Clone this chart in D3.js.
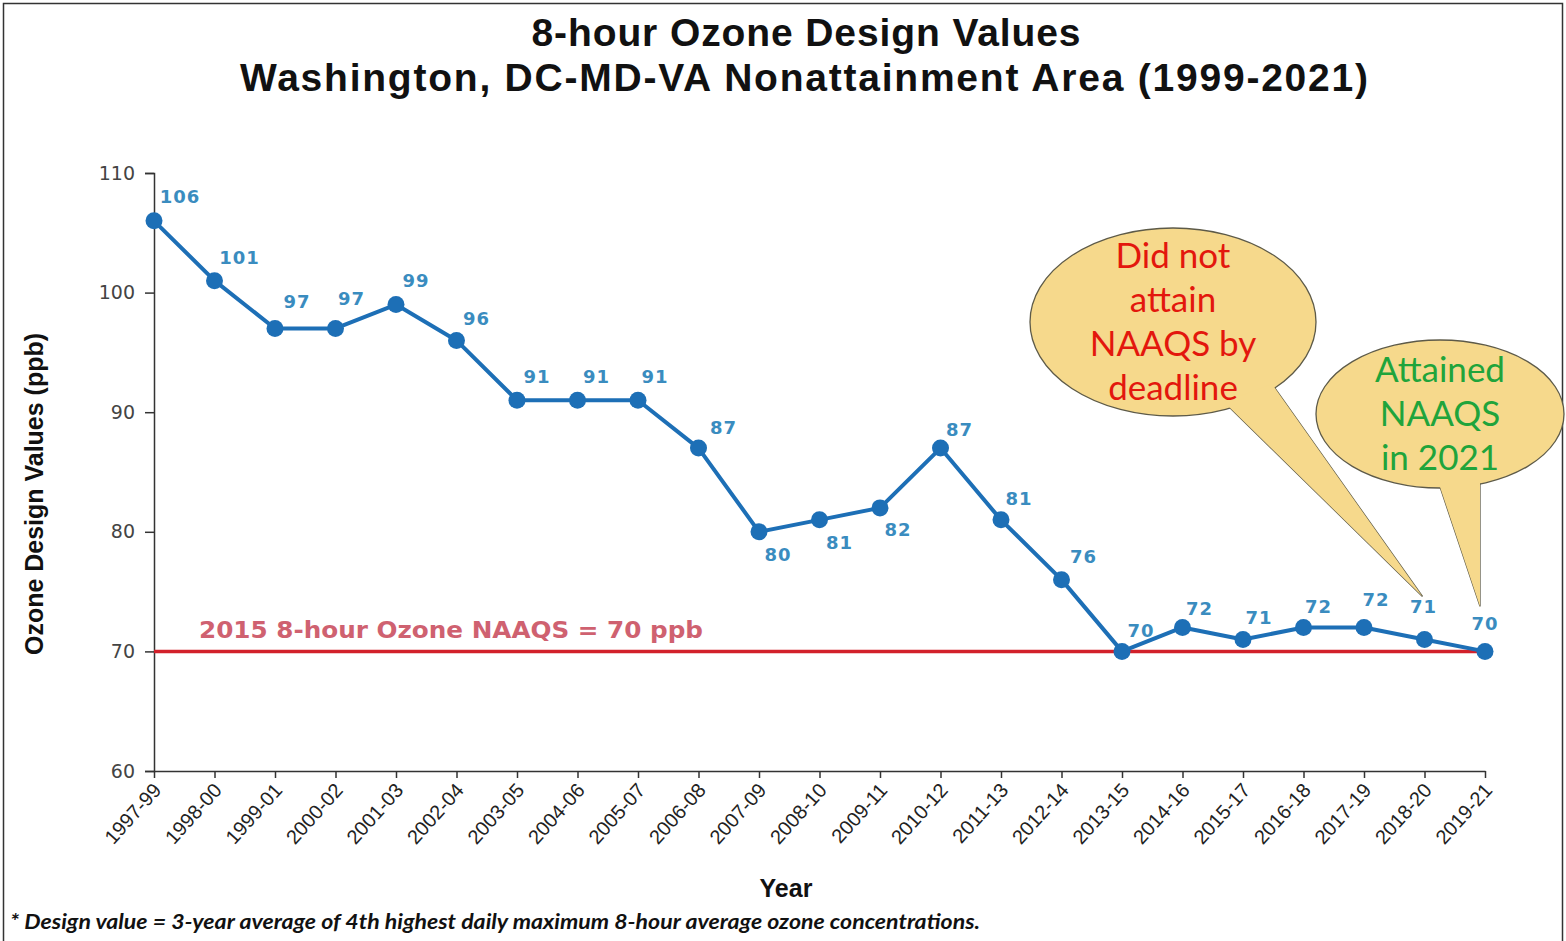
<!DOCTYPE html>
<html>
<head>
<meta charset="utf-8">
<script src="https://cdn.jsdelivr.net/npm/d3@7/dist/d3.min.js"></script>
<style>
  body { margin: 0; background: #fff; }
  svg { display: block; }
</style>
</head>
<body>
<div id="chart"></div>
<script>
// 3-year design value periods and values (ppb)
const periods = ['1997-99', '1998-00', '1999-01', '2000-02', '2001-03', '2002-04', '2003-05',
  '2004-06', '2005-07', '2006-08', '2007-09', '2008-10', '2009-11', '2010-12', '2011-13',
  '2012-14', '2013-15', '2014-16', '2015-17', '2016-18', '2017-19', '2018-20', '2019-21'];
const designValues = [106, 101, 97, 97, 99, 96, 91, 91, 91, 87, 80, 81, 82, 87, 81, 76, 70, 72, 71, 72, 72, 71, 70];
const yTicks = [60, 70, 80, 90, 100, 110];
const naaqs = 70;

// label nudges relative to each point [dx, dy]
const labelNudge = [[26,-24],[25,-23],[22,-27],[16,-30],[20,-24],[20,-22],[20,-24],[19,-24],[17,-24],
  [25,-20],[19,23],[20,23],[18,22],[19,-18],[18,-21],[22,-23],[19,-21],[17,-19],[16,-22],[15,-21],
  [12,-28],[-1,-33],[0,-28]];

const W = 1566, H = 941;
const plot = { left: 154, right: 1485, top: 173, bottom: 771 };

const svg = d3.select('#chart').append('svg')
    .attr('width', W)
    .attr('height', H);

// frame
svg.append('rect')
    .attr('x', 3.5).attr('y', 3.5)
    .attr('width', 1559).attr('height', H + 10)
    .attr('fill', '#fff')
    .attr('stroke', '#333')
    .attr('stroke-width', 1.5);

const x = d3.scalePoint()
    .domain(periods)
    .range([plot.left, plot.right]);

const y = d3.scaleLinear()
    .domain([60, 110])
    .range([plot.bottom, plot.top]);

// titles
svg.append('text')
    .attr('x', 806).attr('y', 46)
    .attr('text-anchor', 'middle')
    .attr('textLength', 549)
    .attr('lengthAdjust', 'spacing')
    .style('font-family', 'Liberation Sans, Arial, sans-serif')
    .style('font-size', '39px')
    .style('font-weight', 'bold')
    .style('fill', '#111')
    .text('8-hour Ozone Design Values');

svg.append('text')
    .attr('x', 804).attr('y', 91)
    .attr('text-anchor', 'middle')
    .attr('textLength', 1128)
    .attr('lengthAdjust', 'spacing')
    .style('font-family', 'Liberation Sans, Arial, sans-serif')
    .style('font-size', '39px')
    .style('font-weight', 'bold')
    .style('fill', '#111')
    .text('Washington, DC-MD-VA Nonattainment Area (1999-2021)');

// axes
const yAxis = svg.append('g')
    .attr('transform', `translate(${plot.left},0)`)
    .call(d3.axisLeft(y).tickValues(yTicks).tickSize(9).tickPadding(10));
yAxis.select('.domain').attr('stroke', '#333').attr('stroke-width', 1.5);
yAxis.selectAll('.tick line').attr('stroke', '#333').attr('stroke-width', 1.5);
yAxis.selectAll('text')
    .style('font-family', 'DejaVu Sans, sans-serif')
    .style('font-size', '19px')
    .style('fill', '#444');

const xAxis = svg.append('g')
    .attr('transform', `translate(0,${plot.bottom})`)
    .call(d3.axisBottom(x).tickSize(7).tickSizeOuter(0));
xAxis.select('.domain').attr('stroke', '#333').attr('stroke-width', 1.5);
xAxis.selectAll('.tick line').attr('stroke', '#333').attr('stroke-width', 1.5);
xAxis.selectAll('text')
    .attr('y', 0)
    .attr('dy', 0)
    .attr('transform', 'translate(8,20) rotate(-48)')
    .style('text-anchor', 'end')
    .style('font-family', 'Liberation Sans, Arial, sans-serif')
    .style('font-size', '20px')
    .style('fill', '#222');

// axis titles
svg.append('text')
    .attr('transform', `translate(43,494) rotate(-90)`)
    .attr('text-anchor', 'middle')
    .attr('textLength', 322)
    .attr('lengthAdjust', 'spacingAndGlyphs')
    .style('font-family', 'Liberation Sans, Arial, sans-serif')
    .style('font-size', '25px')
    .style('font-weight', 'bold')
    .style('fill', '#111')
    .text('Ozone Design Values (ppb)');

svg.append('text')
    .attr('x', 786).attr('y', 897)
    .attr('text-anchor', 'middle')
    .style('font-family', 'Liberation Sans, Arial, sans-serif')
    .style('font-size', '25px')
    .style('font-weight', 'bold')
    .style('fill', '#111')
    .text('Year');

// footnote
svg.append('text')
    .attr('x', 10).attr('y', 929)
    .attr('textLength', 970)
    .attr('lengthAdjust', 'spacingAndGlyphs')
    .style('font-family', 'Lato, sans-serif')
    .style('font-size', '21px')
    .style('font-weight', 'bold')
    .style('font-style', 'italic')
    .style('fill', '#111')
    .text('* Design value = 3-year average of 4th highest daily maximum 8-hour average ozone concentrations.');

// NAAQS reference line
svg.append('line')
    .attr('x1', plot.left).attr('x2', plot.right)
    .attr('y1', y(naaqs)).attr('y2', y(naaqs))
    .attr('stroke', '#d2202a')
    .attr('stroke-width', 3.5);

svg.append('text')
    .attr('x', 199).attr('y', y(naaqs) - 13)
    .attr('textLength', 504)
    .attr('lengthAdjust', 'spacingAndGlyphs')
    .style('font-family', 'DejaVu Sans, sans-serif')
    .style('font-size', '23px')
    .style('font-weight', 'bold')
    .style('fill', '#cf6170')
    .text('2015 8-hour Ozone NAAQS = 70 ppb');

// series line and markers
const line = d3.line()
    .x((d, i) => x(periods[i]))
    .y(d => y(d));

svg.append('path')
    .datum(designValues)
    .attr('d', line)
    .attr('fill', 'none')
    .attr('stroke', '#1d6fb6')
    .attr('stroke-width', 4)
    .attr('stroke-linejoin', 'round');

svg.selectAll('.dot')
    .data(designValues)
    .join('circle')
    .attr('class', 'dot')
    .attr('cx', (d, i) => x(periods[i]))
    .attr('cy', d => y(d))
    .attr('r', 8.5)
    .attr('fill', '#1d6fb6');

svg.selectAll('.val-label')
    .data(designValues)
    .join('text')
    .attr('class', 'val-label')
    .attr('x', (d, i) => x(periods[i]) + labelNudge[i][0])
    .attr('y', (d, i) => y(d) + labelNudge[i][1])
    .attr('dy', '0.35em')
    .attr('text-anchor', 'middle')
    .style('font-family', 'DejaVu Sans, sans-serif')
    .style('font-size', '18px')
    .style('font-weight', 'bold')
    .style('letter-spacing', '1px')
    .style('fill', '#3a8cbf')
    .text(d => d);

// callouts
function callout(cx, cy, rx, ry, tail, lines, color, lineGap) {
    const g = svg.append('g');
    const tailPts = tail.map(p => p.join(',')).join(' ');
    g.append('polygon')
        .attr('points', tailPts)
        .attr('fill', '#f6d98c')
        .attr('stroke', '#5d5a48')
        .attr('stroke-width', 1.3);
    g.append('ellipse')
        .attr('cx', cx).attr('cy', cy)
        .attr('rx', rx).attr('ry', ry)
        .attr('fill', '#f6d98c')
        .attr('stroke', '#5d5a48')
        .attr('stroke-width', 1.3);
    // hide the outline where the tail joins the ellipse
    g.append('polygon')
        .attr('points', tailPts)
        .attr('fill', '#f6d98c');
    const top = cy - (lines.length - 1) * lineGap / 2;
    lines.forEach((t, i) => {
        g.append('text')
            .attr('x', cx).attr('y', top + i * lineGap)
            .attr('dy', '0.35em')
            .attr('text-anchor', 'middle')
            .style('font-family', 'Lato, sans-serif')
            .style('font-size', '35px')
            .style('fill', color)
            .text(t);
    });
}

const tip1 = [x('2018-20') - 2, y(71) - 43];
const tip2 = [x('2019-21') - 5, y(70) - 45];

callout(1173, 322, 143, 94,
    [[1224, 402], [1272, 384], tip1],
    ['Did not', 'attain', 'NAAQS by', 'deadline'], '#e3170d', 44);

callout(1440, 414, 124, 74,
    [[1435, 472], [tip2[0], 472], tip2],
    ['Attained', 'NAAQS', 'in 2021'], '#20a43b', 44);
</script>
</body>
</html>
